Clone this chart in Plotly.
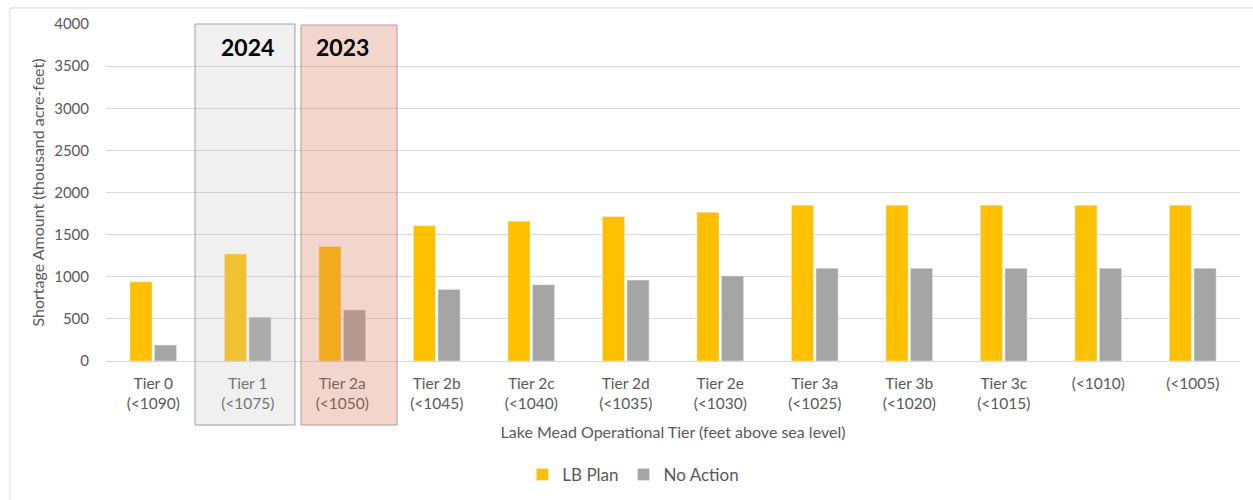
import plotly.graph_objects as go

categories = ["Tier 0<br>(&lt;1090)", "Tier 1<br>(&lt;1075)", "Tier 2a<br>(&lt;1050)",
              "Tier 2b<br>(&lt;1045)", "Tier 2c<br>(&lt;1040)", "Tier 2d<br>(&lt;1035)",
              "Tier 2e<br>(&lt;1030)", "Tier 3a<br>(&lt;1025)", "Tier 3b<br>(&lt;1020)",
              "Tier 3c<br>(&lt;1015)", "(&lt;1010)", "(&lt;1005)"]
lb_plan = [940, 1270, 1360, 1605, 1660, 1715, 1765, 1850, 1850, 1850, 1850, 1850]
no_action = [190, 520, 605, 850, 905, 960, 1010, 1100, 1100, 1100, 1100, 1100]
y_ticks = [0, 500, 1000, 1500, 2000, 2500, 3000, 3500, 4000]
highlights = [(1, "2024", "rgba(196,196,196,0.25)", "#A0A0A0"),
              (2, "2023", "rgba(213,122,97,0.31)", "#B89A94")]

FONT = "Lato, 'Open Sans', sans-serif"
TXT = "#595959"

fig = go.Figure()
fig.add_trace(go.Bar(x=categories, y=lb_plan, name="LB Plan", marker_color="#FFC000"))
fig.add_trace(go.Bar(x=categories, y=no_action, name="No Action", marker_color="#A5A5A5"))

n = len(categories)
shapes = []
annotations = []
for idx, label, fill, line in highlights:
    x0 = (idx - 0.058) / n if idx == 1 else (idx + 0.063) / n
    x1 = (idx + 1.0) / n if idx == 1 else (idx + 1.08) / n
    shapes.append(dict(type="rect", xref="x domain", yref="paper",
                       x0=x0, x1=x1, y0=-0.19, y1=1.0 if idx == 1 else 0.997,
                       fillcolor=fill, line=dict(color=line, width=1), layer="above"))
    annotations.append(dict(x=categories[idx], y=0.932, xref="x", yref="paper",
                            xanchor="center", yanchor="middle",
                            text="<b>" + label + "</b>", showarrow=False,
                            font=dict(family=FONT, size=23, color="#000000")))

# outer chart frame
shapes.append(dict(type="rect", xref="paper", yref="paper", x0=-0.0847, x1=1.03,
                   y0=-0.5, y1=1.0475, line=dict(color="#D9D9D9", width=1),
                   fillcolor="rgba(0,0,0,0)", layer="below"))

fig.update_layout(
    width=1253, height=500,
    margin=dict(l=106, r=13, t=24, b=139, autoexpand=False),
    paper_bgcolor="white", plot_bgcolor="white",
    font=dict(family=FONT, size=13, color=TXT),
    barmode="group", bargap=0.48, bargroupgap=0.1,
    shapes=shapes, annotations=annotations,
    legend=dict(orientation="h", x=0.465, xanchor="center", y=-0.338, yanchor="middle",
                font=dict(family=FONT, size=17, color=TXT)),
    xaxis=dict(tickfont=dict(size=15.5, color=TXT), showline=True, linecolor="#D9D9D9",
               ticks="", automargin=False, ticklabelstandoff=8,
               title=dict(text="Lake Mead Operational Tier (feet above sea level)",
                          font=dict(size=16, color=TXT), standoff=16)),
    yaxis=dict(range=[0, 4000], tickvals=y_ticks, gridcolor="#D9D9D9", zeroline=False,
               tickfont=dict(size=15, color=TXT), ticks="", ticklen=0, automargin=False,
               ticklabelstandoff=16,
               title=dict(text="Shortage Amount (thousand acre-feet)",
                          font=dict(size=16, color=TXT), standoff=5)),
)

fig.write_html("out.html", config={"displayModeBar": False},
               post_script="document.body.style.margin='0';")
